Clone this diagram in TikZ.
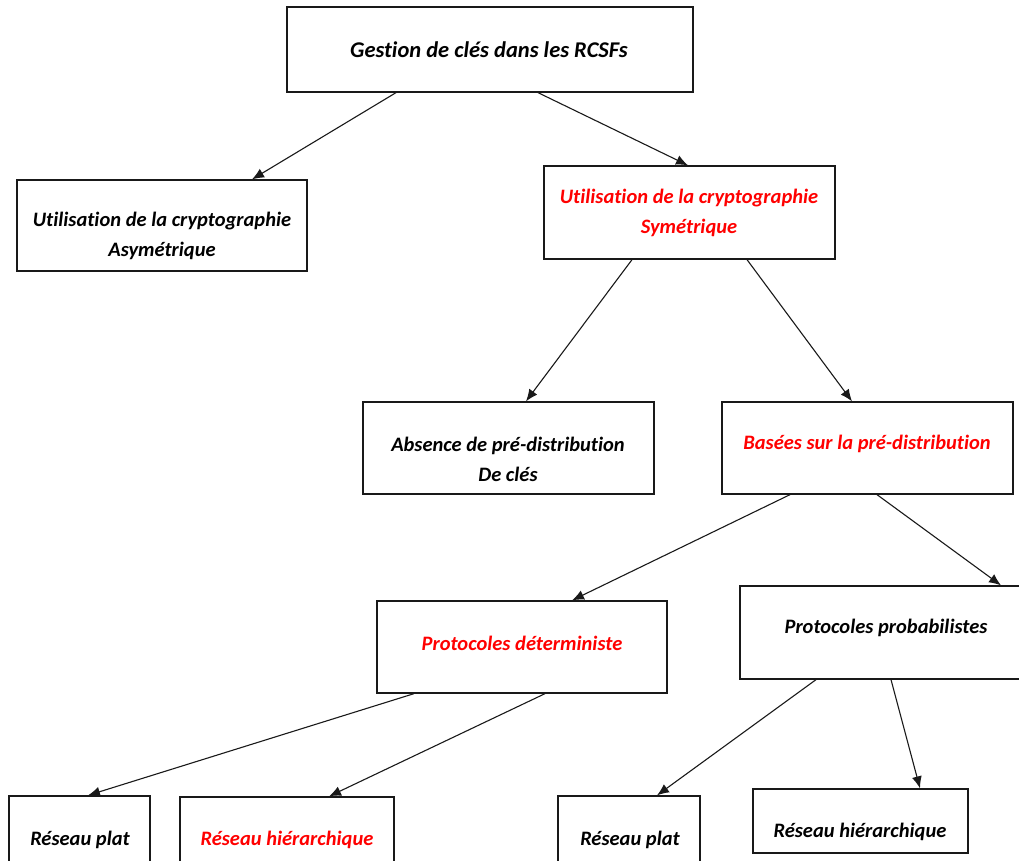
\documentclass[tikz,border=0pt]{standalone}
\usepackage{fontspec}
\setmainfont{Carlito}[Ligatures=NoCommon]
\usetikzlibrary{arrows.meta}
\definecolor{boxline}{RGB}{25,25,25}
\tikzset{
  box/.style={draw=boxline, line width=1.3pt, rectangle, inner sep=0pt},
  lbl/.style={font=\fontsize{20.5}{30}\selectfont\bfseries\itshape, align=center, inner sep=0pt, text=black},
  redlbl/.style={lbl, text=red},
  arr/.style={draw=boxline, line width=1.1pt, -{Latex[length=12pt,width=10pt]}}
}
\begin{document}
\begin{tikzpicture}[x=1pt,y=-1pt]
\useasboundingbox (0,0) rectangle (1019,861);

% boxes
\node[box, minimum width=406pt, minimum height=85pt] (top)  at (490,49.5) {};
\node[box, minimum width=290pt, minimum height=91pt] (asym) at (162,225.5) {};
\node[box, minimum width=291pt, minimum height=93pt] (sym)  at (689.5,212.5) {};
\node[box, minimum width=291pt, minimum height=92pt] (abs)  at (508.5,448) {};
\node[box, minimum width=291pt, minimum height=92pt] (bas)  at (867.5,448) {};
\node[box, minimum width=290pt, minimum height=92pt] (det)  at (522,647) {};
\node[box, minimum width=291pt, minimum height=93pt] (prob) at (885.5,632.5) {};
\node[box, minimum width=141pt, minimum height=92pt] (rpL)  at (79.5,842) {};
\node[box, minimum width=214pt, minimum height=92pt] (rhL)  at (287,843) {};
\node[box, minimum width=142pt, minimum height=92pt] (rpR)  at (629,842) {};
\node[box, minimum width=215pt, minimum height=64pt] (rhR)  at (860.5,821) {};

% texts
\node[lbl, font=\fontsize{22.5}{30}\selectfont\bfseries\itshape]
              (top-t)  at (489,50)    {Gestion de clés dans les RCSFs};
\node[lbl]    (asym-t) at (162,236)   {Utilisation de la cryptographie\\Asymétrique};
\node[redlbl] (sym-t)  at (689,213)   {Utilisation de la cryptographie\\Symétrique};
\node[lbl]    (abs-t)  at (508,459)   {Absence de pré-distribution\\De clés};
\node[redlbl] (bas-t)  at (867,444)   {Basées sur la pré-distribution};
\node[redlbl] (det-t)  at (522,643)   {Protocoles déterministe};
\node[lbl]    (prob-t) at (886,628)   {Protocoles probabilistes};
\node[lbl]    (rpL-t)  at (80,840)    {Réseau plat};
\node[redlbl] (rhL-t)  at (287,840)   {Réseau hiérarchique};
\node[lbl]    (rpR-t)  at (630,840)   {Réseau plat};
\node[lbl]    (rhR-t)  at (860,832)   {Réseau hiérarchique};

% connectors
\draw[arr] ([xshift=-94pt]top.south)   -- ([xshift=90pt]asym.north);
\draw[arr] ([xshift=48pt]top.south)    -- ([xshift=-1.5pt]sym.north);
\draw[arr] ([xshift=-57.5pt]sym.south) -- ([xshift=17.5pt]abs.north);
\draw[arr] ([xshift=57.5pt]sym.south)  -- ([xshift=-15.5pt]bas.north);
\draw[arr] ([xshift=-77.5pt]bas.south) -- ([xshift=50pt]det.north);
\draw[arr] ([xshift=9.5pt]bas.south)   -- ([xshift=115.5pt]prob.north);
\draw[arr] ([xshift=-108pt]det.south)  -- ([xshift=8.5pt]rpL.north);
\draw[arr] ([xshift=23pt]det.south)    -- ([xshift=42pt]rhL.north);
\draw[arr] ([xshift=-69.5pt]prob.south) -- ([xshift=28pt]rpR.north);
\draw[arr] ([xshift=5.5pt]prob.south)  -- ([xshift=59.5pt]rhR.north);
\end{tikzpicture}
\end{document}
